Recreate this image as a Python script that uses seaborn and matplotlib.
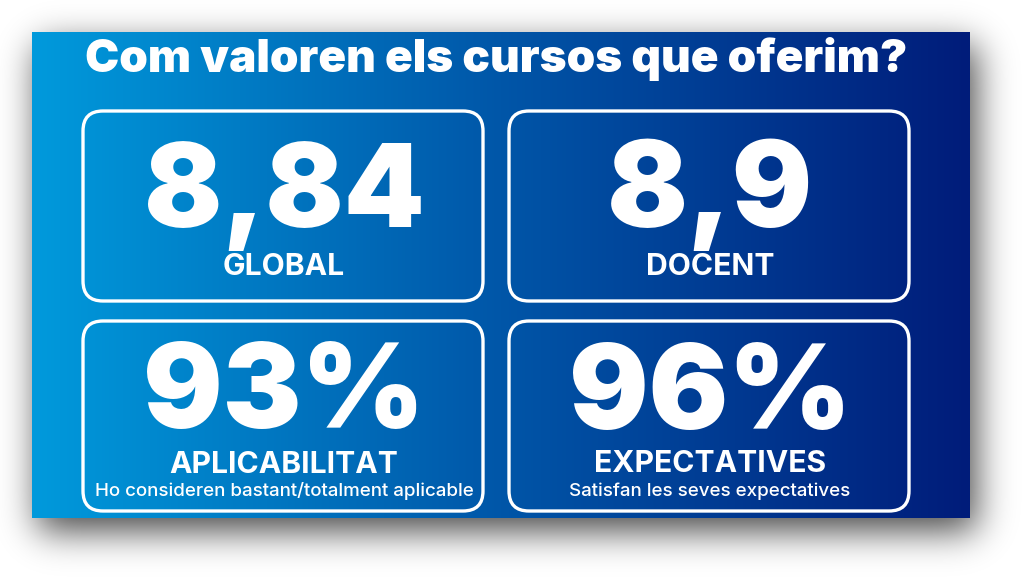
import math

import numpy as np
import matplotlib
matplotlib.use("Agg")
import matplotlib.pyplot as plt
import seaborn as sns
from matplotlib.patches import FancyBboxPatch

# Data shown on the infographic
title = "Com valoren els cursos que oferim?"
values = ["8,84", "8,9", "93%", "96%"]
labels = ["GLOBAL", "DOCENT", "APLICABILITAT", "EXPECTATIVES"]
subtitles = ["", "", "Ho consideren bastant/totalment aplicable",
             "Satisfan les seves expectatives"]

W, H = 1035, 583

sns.set_theme(style="white")
plt.rcParams['font.family'] = ['Inter', 'DejaVu Sans']

fig = plt.figure(figsize=(W / 100, H / 100), dpi=100)
ax = fig.add_axes([0, 0, 1, 1])
ax.set_xlim(0, W)
ax.set_ylim(H, 0)
ax.axis("off")

# panel geometry
px0, px1, py0, py1 = 32, 970, 32, 518

# soft drop shadow: blurred rectangle, built separably with erf
erf = np.vectorize(math.erf)
sig = 18.0
dx, dy = 6, 13
xs = np.arange(W) + 0.5
ys = np.arange(H) + 0.5
fx = 0.5 * (erf((xs - px0 - dx) / (sig * np.sqrt(2))) - erf((xs - px1 - dx) / (sig * np.sqrt(2))))
fy = 0.5 * (erf((ys - py0 - dy) / (sig * np.sqrt(2))) - erf((ys - py1 - dy) / (sig * np.sqrt(2))))
shadow = np.zeros((H, W, 4))
shadow[..., 3] = 0.72 * np.outer(fy, fx)
ax.imshow(shadow, extent=(0, W, H, 0), zorder=1, interpolation="bilinear")

# horizontal blue gradient
stops = np.array([0.0, 0.5, 1.0])
cols = np.array([[0, 154, 220], [0, 86, 168], [0, 28, 122]]) / 255
t = np.linspace(0, 1, 400)
grad = np.stack([np.interp(t, stops, cols[:, k]) for k in range(3)], axis=-1)
grad = np.tile(grad[None, :, :], (10, 1, 1))
ax.imshow(grad, extent=(px0, px1, py1, py0), aspect="auto", zorder=2)

ax.text((85 + 908) / 2, 72, title, ha="center", va="baseline", color="white",
        fontsize=33, fontweight="black", zorder=5)

# boxes
box_x = [83, 509, 83, 509]
box_y = [111, 111, 321, 321]
bw, bh = 400, 190
val_base = [227, 227, 428, 429]
lab_base = [275, 275, 473, 472]
val_size = [83, 86, 85, 85]

for i in range(4):
    ax.add_patch(FancyBboxPatch((box_x[i], box_y[i]), bw, bh,
                                boxstyle="round,pad=0,rounding_size=20",
                                fill=False, edgecolor="white", linewidth=2.4,
                                zorder=4))
    cx = box_x[i] + bw / 2 + 1
    ax.text(cx, val_base[i], values[i], ha="center", va="baseline",
            color="white", fontsize=val_size[i], fontweight="black", zorder=5)
    ax.text(cx, lab_base[i], labels[i], ha="center", va="baseline",
            color="white", fontsize=21.7, fontweight="bold", zorder=5)
    if subtitles[i]:
        ax.text(cx, 496, subtitles[i], ha="center", va="baseline",
                color="white", fontsize=13.5, fontweight="medium", zorder=5)

fig.savefig("out.png", dpi=100, facecolor="white")
